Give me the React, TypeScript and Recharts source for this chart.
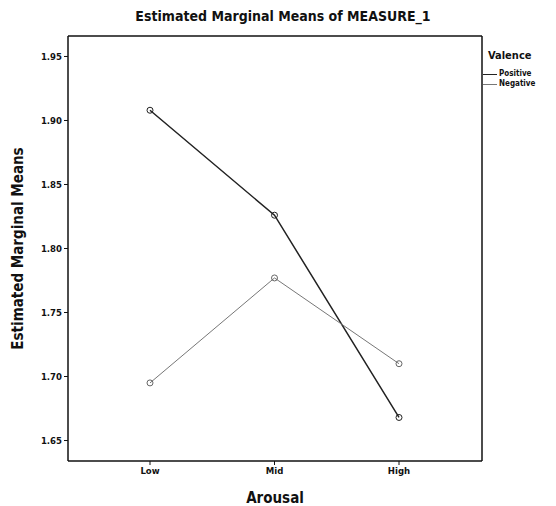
import React from 'react';
import { LineChart, Line, XAxis, YAxis, Label } from 'recharts';

const categories = ['Low', 'Mid', 'High'];
const positiveValues = [1.908, 1.826, 1.668];
const negativeValues = [1.695, 1.777, 1.710];
const yTicks = [1.65, 1.7, 1.75, 1.8, 1.85, 1.9, 1.95];
const yDomain = [1.634, 1.966];

const data = categories.map((c, i) => ({
  arousal: c,
  Positive: positiveValues[i],
  Negative: negativeValues[i],
}));

const FONT = '"DejaVu Sans Condensed", "DejaVu Sans", sans-serif';

export default function App() {
  return (
    <div style={{ position: 'absolute', left: 0, top: 0, width: 556, height: 506, background: '#fff', fontFamily: FONT }}>
      <div style={{ position: 'absolute', left: 0, top: 8, width: 566, textAlign: 'center', fontWeight: 'bold', fontSize: 14, color: '#111', fontStretch: 'condensed' }}>
        Estimated Marginal Means of MEASURE_1
      </div>
      <div style={{ position: 'absolute', left: 488, top: 49, fontWeight: 'bold', fontSize: 11, color: '#111', fontStretch: 'condensed' }}>
        Valence
      </div>
      <div style={{ position: 'absolute', left: 483, top: 69, fontSize: 8, fontWeight: 'bold', color: '#111', lineHeight: '10px', fontStretch: 'condensed' }}>
        <div style={{ display: 'flex', alignItems: 'center' }}>
          <span style={{ display: 'inline-block', width: 14, height: 0, borderTop: '1.5px solid #222', marginRight: 2 }} />Positive
        </div>
        <div style={{ display: 'flex', alignItems: 'center' }}>
          <span style={{ display: 'inline-block', width: 14, height: 0, borderTop: '1px solid #777', marginRight: 2 }} />Negative
        </div>
      </div>
      <LineChart width={556} height={506} data={data} margin={{ top: 35, right: 73, bottom: 15, left: 28 }}>
        <XAxis
          dataKey="arousal"
          padding={{ left: 82, right: 83 }}
          axisLine={{ stroke: '#111', strokeWidth: 1.5 }}
          tickLine={{ stroke: '#111' }}
          tickSize={4}
          tick={{ fontSize: 9.5, fill: '#111', fontFamily: FONT, fontWeight: 'bold' }}
          height={30}
        >
          <Label value="Arousal" position="insideBottom" offset={-12} style={{ fontSize: 15, fontWeight: 'bold', fill: '#111', fontFamily: FONT }} />
        </XAxis>
        <XAxis
          xAxisId="top"
          dataKey="arousal"
          orientation="top"
          padding={{ left: 82, right: 83 }}
          tick={false}
          tickLine={false}
          height={1}
          axisLine={{ stroke: '#111', strokeWidth: 1.5 }}
        />
        <YAxis
          domain={yDomain}
          ticks={yTicks}
          type="number"
          allowDataOverflow
          axisLine={{ stroke: '#111', strokeWidth: 1.5 }}
          tickLine={{ stroke: '#111' }}
          tickSize={4}
          tickFormatter={(v: number) => v.toFixed(2)}
          tick={{ fontSize: 9.5, fill: '#111', fontFamily: FONT, fontWeight: 'bold' }}
          width={40}
        >
          <Label value="Estimated Marginal Means" angle={-90} position="insideLeft" offset={-10} style={{ fontSize: 15, fontWeight: 'bold', fill: '#111', fontFamily: FONT, textAnchor: 'middle' }} />
        </YAxis>
        <YAxis
          yAxisId="right"
          orientation="right"
          domain={yDomain}
          type="number"
          allowDataOverflow
          tick={false}
          tickLine={false}
          width={1}
          axisLine={{ stroke: '#111', strokeWidth: 1.5 }}
        />
        <Line
          dataKey="Positive"
          stroke="#222"
          strokeWidth={1.5}
          dot={{ r: 3, stroke: '#222', strokeWidth: 1, fill: 'none' }}
          isAnimationActive={false}
        />
        <Line
          dataKey="Negative"
          stroke="#777"
          strokeWidth={1}
          dot={{ r: 3, stroke: '#666', strokeWidth: 1, fill: 'none' }}
          isAnimationActive={false}
        />
      </LineChart>
    </div>
  );
}
